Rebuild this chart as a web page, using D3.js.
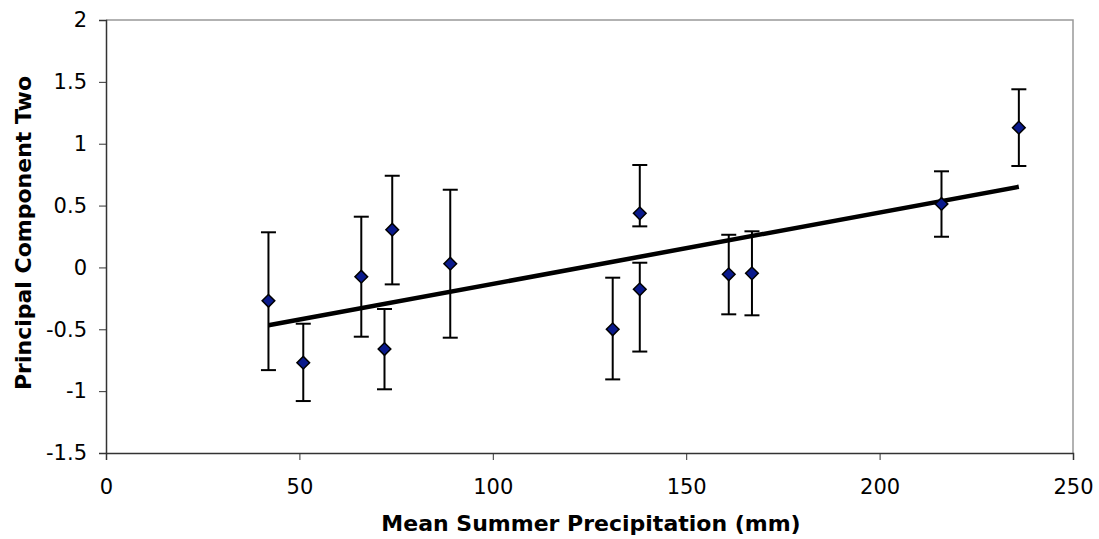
<!DOCTYPE html>
<html>
<head>
<meta charset="utf-8">
<script src="https://cdn.jsdelivr.net/npm/d3@7"></script>
<style>
  html, body { margin: 0; padding: 0; background: #fff; }
  svg { display: block; }
  text { font-family: "DejaVu Sans", Verdana, sans-serif; fill: #000; }
</style>
</head>
<body>
<svg id="chart" width="1099" height="539"></svg>
<script>
// Data
const precip   = [42, 51, 66, 72, 74, 89, 131, 138, 138, 161, 167, 216, 236];
const pc2      = [-0.27, -0.77, -0.075, -0.66, 0.305, 0.03, -0.50, 0.437, -0.177, -0.056, -0.048, 0.513, 1.13];
const errUpper = [0.284, -0.455, 0.41, -0.336, 0.741, 0.628, -0.083, 0.828, 0.038, 0.264, 0.292, 0.777, 1.44];
const errLower = [-0.83, -1.08, -0.56, -0.985, -0.137, -0.568, -0.905, 0.332, -0.68, -0.379, -0.387, 0.248, 0.82];
const trendX   = [42, 236];
const trendY   = [-0.468, 0.652];
const xTicks   = [0, 50, 100, 150, 200, 250];
const yTicks   = [-1.5, -1, -0.5, 0, 0.5, 1, 1.5, 2];
const xTitle   = "Mean Summer Precipitation (mm)";
const yTitle   = "Principal Component Two";

(function () {
const svg = d3.select("#chart");
const mLeft = 106, mRight = 1073, mTop = 20, mBottom = 453;

const x = d3.scaleLinear().domain([0, 250]).range([mLeft, mRight]);
const y = d3.scaleLinear().domain([-1.5, 2]).range([mBottom, mTop]);

// plot frame (top/right grey)
svg.append("path")
  .attr("d", `M${mLeft},${mTop}H${mRight}V${mBottom}`)
  .attr("fill", "none").attr("stroke", "#999").attr("stroke-width", 1.5);

const tickFont = 21, titleFont = 22;

const xAxis = svg.append("g").attr("transform", `translate(0,${mBottom})`)
  .call(d3.axisBottom(x).tickValues(xTicks).tickSize(7).tickPadding(19).tickFormat(d3.format("")));
const yAxis = svg.append("g").attr("transform", `translate(${mLeft},0)`)
  .call(d3.axisLeft(y).tickValues(yTicks).tickSize(7).tickPadding(12).tickFormat(d => String(d)));

[xAxis, yAxis].forEach(g => {
  g.select(".domain").attr("stroke", "#333").attr("stroke-width", 1.5);
  g.selectAll(".tick line").attr("stroke", "#333").attr("stroke-width", 1);
  g.selectAll(".tick text").attr("font-size", tickFont)
    .attr("font-family", "'DejaVu Sans', Verdana, sans-serif").attr("fill", "#000");
});

// trend line
svg.append("line")
  .attr("x1", x(trendX[0])).attr("y1", y(trendY[0]))
  .attr("x2", x(trendX[1])).attr("y2", y(trendY[1]))
  .attr("stroke", "#000").attr("stroke-width", 4.5);

const pts = precip.map((p, i) => ({ p, v: pc2[i], hi: errUpper[i], lo: errLower[i] }));

const eb = svg.append("g").attr("stroke", "#000").attr("stroke-width", 2);
const capW = 7.5;
pts.forEach(d => {
  eb.append("line").attr("x1", x(d.p)).attr("x2", x(d.p)).attr("y1", y(d.hi)).attr("y2", y(d.lo));
  eb.append("line").attr("x1", x(d.p) - capW).attr("x2", x(d.p) + capW).attr("y1", y(d.hi)).attr("y2", y(d.hi));
  eb.append("line").attr("x1", x(d.p) - capW).attr("x2", x(d.p) + capW).attr("y1", y(d.lo)).attr("y2", y(d.lo));
});

const sym = d3.symbol().type(d3.symbolSquare).size(80);
svg.append("g").selectAll("path").data(pts).join("path")
  .attr("d", sym)
  .attr("transform", d => `translate(${x(d.p)},${y(d.v)}) rotate(45)`)
  .attr("fill", "#0a1a8c").attr("stroke", "#000").attr("stroke-width", 1.5);

// titles
svg.append("text")
  .attr("x", 591).attr("y", 531)
  .attr("text-anchor", "middle").attr("font-weight", "bold").attr("font-size", titleFont)
  .text(xTitle);
svg.append("text")
  .attr("transform", `translate(31,233) rotate(-90)`)
  .attr("text-anchor", "middle").attr("font-weight", "bold").attr("font-size", titleFont)
  .text(yTitle);
})();
</script>
</body>
</html>
